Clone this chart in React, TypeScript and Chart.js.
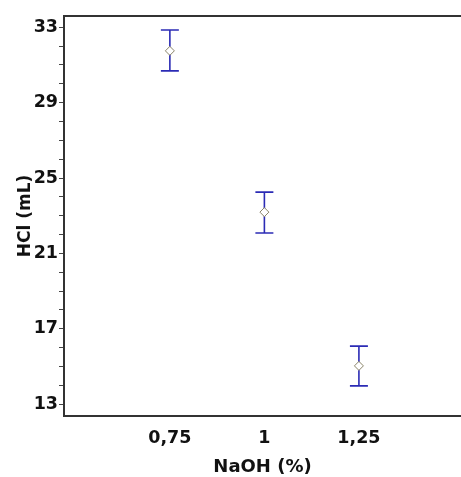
import React, { useEffect, useRef } from "react";
import { Chart, registerables } from "chart.js";

Chart.register(...registerables);

const naoh = [0.75, 1, 1.25];
const naohLabels = ["0,75", "1", "1,25"];
const hclMean = [31.75, 23.19, 15.03];
const hclUpper = [32.86, 24.25, 16.08];
const hclLower = [30.69, 22.08, 13.97];
const yMajorTicks = [13, 17, 21, 25, 29, 33];
const yMinorTicks = [14, 15, 16, 18, 19, 20, 22, 23, 24, 26, 27, 28, 30, 31, 32];

const errorBarPlugin = {
  id: "errorBars",
  beforeDatasetsDraw(chart: any) {
    const { ctx, scales } = chart;
    const xs = scales.x;
    const ys = scales.y;
    ctx.save();
    ctx.strokeStyle = "#2b2bb5";
    ctx.lineWidth = 1.6;
    naoh.forEach((x, i) => {
      const px = xs.getPixelForValue(x);
      const top = ys.getPixelForValue(hclUpper[i]);
      const bot = ys.getPixelForValue(hclLower[i]);
      ctx.beginPath();
      ctx.moveTo(px, top);
      ctx.lineTo(px, bot);
      ctx.moveTo(px - 9, top);
      ctx.lineTo(px + 9, top);
      ctx.moveTo(px - 9, bot);
      ctx.lineTo(px + 9, bot);
      ctx.stroke();
    });
    ctx.restore();
  },
  afterDraw(chart: any) {
    const { ctx, chartArea } = chart;
    ctx.save();
    ctx.strokeStyle = "#333333";
    ctx.lineWidth = 2;
    ctx.beginPath();
    ctx.moveTo(chartArea.left - 1, chartArea.top);
    ctx.lineTo(chart.width, chartArea.top);
    ctx.stroke();
    ctx.restore();
  },
};

export default function App() {
  const ref = useRef<HTMLCanvasElement | null>(null);
  useEffect(() => {
    if (!ref.current) return;
    const family = "'DejaVu Sans', 'Liberation Sans', Arial, sans-serif";
    const tickFont = { family, size: 17.5, weight: "bold" as const };
    const xTitleFont = { family, size: 18, weight: "bold" as const };
    const yTitleFont = { family, size: 17, weight: "bold" as const };
    const chart = new Chart(ref.current, {
      type: "scatter",
      data: {
        datasets: [
          {
            data: naoh.map((x, i) => ({ x, y: hclMean[i] })),
            pointStyle: "rectRot",
            pointRadius: 4.5,
            pointBorderWidth: 1,
            pointBorderColor: "#8a8468",
            pointBackgroundColor: "#ffffff",
            showLine: false,
          },
        ],
      },
      options: {
        animation: false,
        responsive: false,
        layout: { autoPadding: false, padding: { top: 16, left: 0, right: 0, bottom: 0 } },
        plugins: { legend: { display: false }, tooltip: { enabled: false } },
        scales: {
          x: {
            type: "linear",
            min: 0.47,
            max: 1.52,
            afterBuildTicks: (s: any) => {
              s.ticks = naoh.map((v) => ({ value: v }));
            },
            afterFit: (s: any) => {
              s.height = 61;
              s.paddingLeft = 0;
              s.paddingRight = 0;
            },
            grid: { display: true, drawOnChartArea: false, drawTicks: false },
            border: { display: true, color: "#333333", width: 2 },
            ticks: {
              padding: 12,
              color: "#111111",
              font: tickFont,
              autoSkip: false,
              maxRotation: 0,
              callback: (v: any) => {
                const i = naoh.indexOf(Number(v));
                return i >= 0 ? naohLabels[i] : "";
              },
            },
            title: {
              display: true,
              text: "NaOH (%)",
              color: "#111111",
              font: xTitleFont,
              padding: { top: 0, bottom: -1 },
            },
          },
          y: {
            type: "linear",
            min: 12.37,
            max: 33.6,
            afterBuildTicks: (s: any) => {
              s.ticks = [...yMajorTicks, ...yMinorTicks]
                .sort((a, b) => a - b)
                .map((v) => ({ value: v }));
            },
            afterFit: (s: any) => {
              s.width = 64;
              s.paddingTop = 0;
              s.paddingBottom = 0;
            },
            grid: {
              display: true,
              drawOnChartArea: false,
              drawTicks: true,
              tickLength: 5,
              tickColor: "#444444",
              tickWidth: 1,
            },
            border: { display: true, color: "#333333", width: 2 },
            ticks: {
              padding: 1,
              color: "#111111",
              font: tickFont,
              autoSkip: false,
              callback: (v: any) => (yMajorTicks.includes(Number(v)) ? String(v) : ""),
            },
            title: {
              display: true,
              text: "HCl (mL)",
              color: "#111111",
              font: yTitleFont,
              padding: { top: 15, bottom: 0 },
            },
          },
        },
      },
      plugins: [errorBarPlugin],
    });
    return () => chart.destroy();
  }, []);
  return (
    <div style={{ position: "fixed", left: 0, top: 0, width: 461, height: 477, background: "#fff" }}>
      <canvas ref={ref} width={461} height={477} />
    </div>
  );
}
